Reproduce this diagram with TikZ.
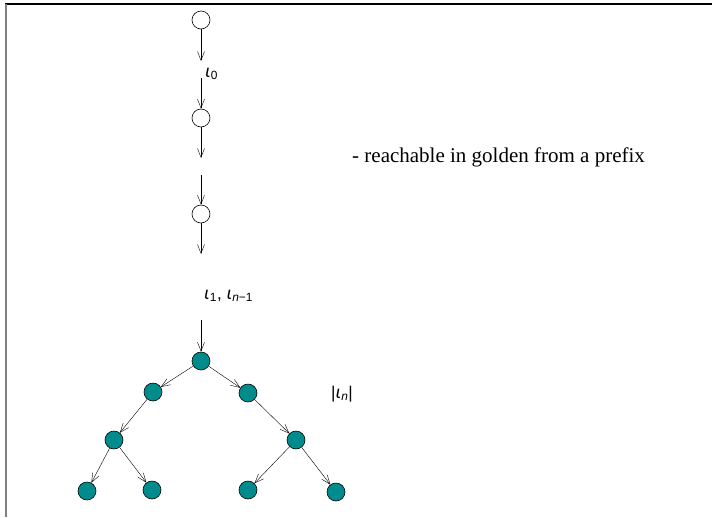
\documentclass[tikz,border=0pt]{standalone}
\usepackage{fontspec}
\setmainfont{Liberation Serif}
\newfontfamily\labelfont{Liberation Sans}
\newfontfamily\iotafont{DejaVu Sans}
\usetikzlibrary{arrows.meta,positioning}
\definecolor{nodeteal}{RGB}{0,140,140}
\newcommand{\io}[1]{{\iotafont\itshape ι}\textsubscript{#1}}

\begin{document}
\begin{tikzpicture}[
  x=1pt, y=-1pt,
  state/.style={circle, draw, semithick, fill=white, minimum size=18pt, inner sep=0pt},
  gold/.style={state, fill=nodeteal},
  arr/.style={-{Straight Barb[length=9pt,width=7pt]}, thin},
  lbl/.style={font=\fontsize{17}{19}\selectfont\labelfont}
]
\useasboundingbox (0,0) rectangle (712,517);
\draw[line width=1.2pt] (5,4) -- (712,4);
\draw[gray, line width=1.2pt] (6,4) -- (6,517);

% prefix run
\node[state] (p0) at (201,20) {};
\node[state] (p1) at (201,118) {};
\node[state] (p2) at (201,214) {};
\coordinate (e0) at (201,61);
\coordinate (s1) at (201,78);
\coordinate (e1) at (201,158);
\coordinate (s2) at (201,175);
\coordinate (e2) at (201,254);
\coordinate (s3) at (201,320);
\draw[arr] (p0) -- (e0);
\draw[arr] (s1) -- (p1);
\draw[arr] (p1) -- (e1);
\draw[arr] (s2) -- (p2);
\draw[arr] (p2) -- (e2);
\node[lbl, anchor=west, inner sep=0pt] (l0) at (205,74) {\io{0}};
\node[lbl, anchor=west, inner sep=0pt] (l1) at (204,296) {\io{1}, \io{\textit{n}−1}};
\node[font=\fontsize{21}{24}\selectfont, anchor=west, inner sep=0pt] (note) at (352,157) {- reachable in golden from a prefix};

% golden tree
\node[gold] (r) at (201,361) {};
\node[gold] (a) at (153,392) {};
\node[gold] (b) at (248,393) {};
\node[gold] (aa) at (114,440) {};
\node[gold] (bb) at (296,440) {};
\node[gold] (c1) at (87,491) {};
\node[gold] (c2) at (152,490) {};
\node[gold] (c3) at (248,490) {};
\node[gold] (c4) at (336,492) {};
\draw[arr] (s3) -- (r);
\draw[arr] (r) -- (a);
\draw[arr] (r) -- (b);
\draw[arr] (a) -- (aa);
\draw[arr] (b) -- (bb);
\draw[arr] (aa) -- (c1);
\draw[arr] (aa) -- (c2);
\draw[arr] (bb) -- (c3);
\draw[arr] (bb) -- (c4);
\node[lbl, anchor=west, inner sep=0pt] (ln) at (331,394) {|\io{\textit{n}}|};
\end{tikzpicture}
\end{document}
